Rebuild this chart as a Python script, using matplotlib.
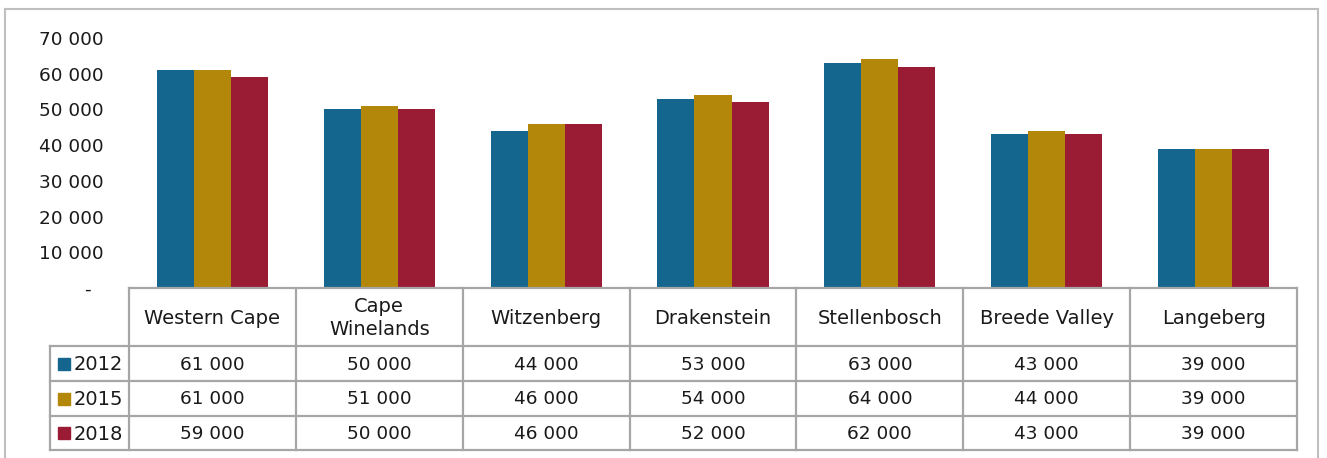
import matplotlib
matplotlib.use("Agg")
import matplotlib.pyplot as plt
from matplotlib.patches import Rectangle
from matplotlib.lines import Line2D

categories = ["Western Cape", "Cape\nWinelands", "Witzenberg", "Drakenstein",
              "Stellenbosch", "Breede Valley", "Langeberg"]
years = ["2012", "2015", "2018"]
v2012 = [61000, 50000, 44000, 53000, 63000, 43000, 39000]
v2015 = [61000, 51000, 46000, 54000, 64000, 44000, 39000]
v2018 = [59000, 50000, 46000, 52000, 62000, 43000, 39000]
series = [v2012, v2015, v2018]
colors = ["#15668F", "#B3870A", "#9A1B34"]
yticks = [0, 10000, 20000, 30000, 40000, 50000, 60000, 70000]

W, H = 1327, 458
fig = plt.figure(figsize=(W / 100, H / 100), dpi=100)
plt.rcParams['font.family'] = ['DejaVu Sans']
txt = "#1a1a1a"
grid = "#A6A6A6"

# pixel layout
x0, x1 = 129, 1297
y_zero, y_top = 288, 38
ax = fig.add_axes([x0 / W, 1 - y_zero / H, (x1 - x0) / W, (y_zero - y_top) / H])
n = len(categories)
bw = 0.222
for i, (vals, c) in enumerate(zip(series, colors)):
    xs = [k + (i - 1) * bw for k in range(n)]
    ax.bar(xs, vals, width=bw, color=c, edgecolor="none", zorder=2)
ax.set_xlim(-0.5, n - 0.5)
ax.set_ylim(0, 70000)
ax.set_yticks(yticks)
ax.set_yticklabels(["-  "] + [f"{v // 1000} 000" for v in yticks[1:]],
                   fontsize=13.3, color=txt)
ax.tick_params(axis="y", length=0, pad=18.5)
ax.set_xticks([])
for s in ["top", "right", "left", "bottom"]:
    ax.spines[s].set_visible(False)
ax.patch.set_alpha(0)

# overlay axes in pixel coordinates for table and frame
ov = fig.add_axes([0, 0, 1, 1])
ov.set_xlim(0, W)
ov.set_ylim(H, 0)
ov.axis("off")
ov.patch.set_alpha(0)

def line(xa, ya, xb, yb, c=grid, lw=1.6):
    ov.add_line(Line2D([xa, xb], [ya, yb], color=c, lw=lw, solid_capstyle="projecting"))

# outer chart frame
fc = "#BFBFBF"
line(5, 9, 1318, 9, fc, 1.5)
line(5, 9, 5, 460, fc, 1.5)
line(1318, 9, 1318, 460, fc, 1.5)

# table
colw = (x1 - x0) / n
rows = [288, 346, 381, 416, 450]
lx = 50
line(x0, rows[0], x1, rows[0])
for r in rows[1:]:
    line(lx, r, x1, r)
for k in range(n + 1):
    xx = x0 + k * colw
    line(xx, rows[0], xx, rows[-1])
line(lx, rows[1], lx, rows[-1])

for k, cat in enumerate(categories):
    cx = x0 + (k + 0.5) * colw
    ov.text(cx, (rows[0] + rows[1]) / 2 + 1, cat, ha="center", va="center",
            fontsize=14, color=txt, linespacing=1.3)
    for i, vals in enumerate(series):
        cy = (rows[i + 1] + rows[i + 2]) / 2 + 1
        v = vals[k]
        ov.text(cx, cy, f"{v // 1000} {v % 1000:03d}", ha="center", va="center",
                fontsize=13.3, color=txt)

for i, (yr, c) in enumerate(zip(years, colors)):
    cy = (rows[i + 1] + rows[i + 2]) / 2
    ov.add_patch(Rectangle((58, cy - 6), 12, 12, color=c))
    ov.text(74, cy + 1, yr, ha="left", va="center", fontsize=14, color=txt)

fig.savefig("out.png", dpi=100)
